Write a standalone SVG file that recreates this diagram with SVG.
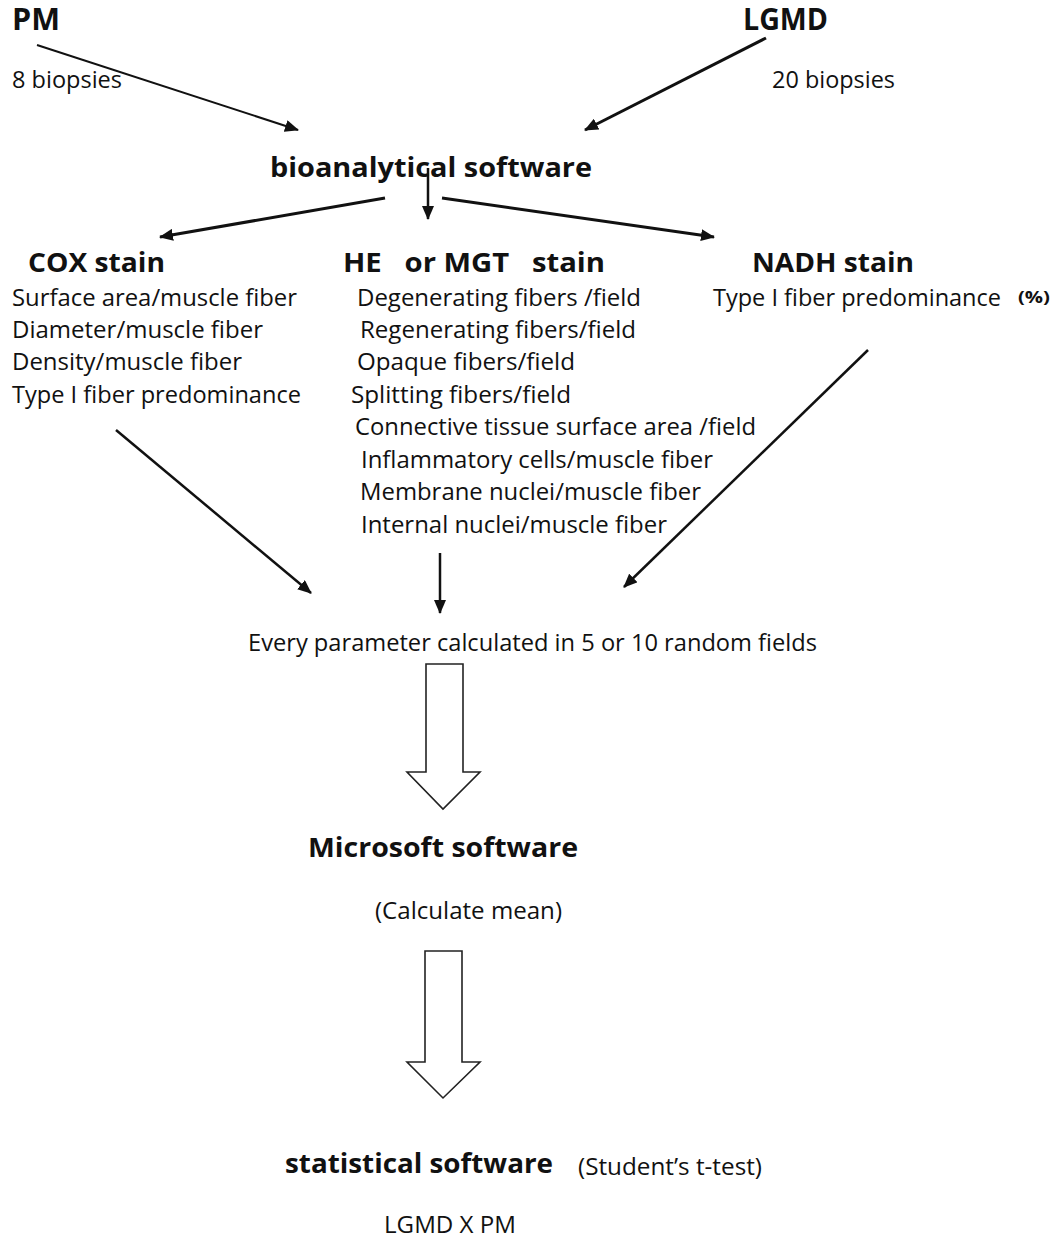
<svg xmlns="http://www.w3.org/2000/svg" width="1054" height="1239" viewBox="0 0 1054 1239">
<style>
text{font-family:"Open Sans","Noto Sans","Liberation Sans",sans-serif;fill:#111;}
.h{font-weight:bold;font-size:26px;}
.t{font-size:23px;font-weight:500;}
.big{font-weight:bold;font-size:30px;}
.ln{stroke:#111;stroke-width:2.5;fill:none;marker-end:url(#ah);}
.blk{fill:#fff;stroke:#222;stroke-width:1.6;}
</style>
<defs>
<marker id="ah" markerUnits="userSpaceOnUse" markerWidth="14" markerHeight="12" refX="13" refY="6" orient="auto">
<path d="M0,0 L14,6 L0,12 z" fill="#111"/>
</marker>
</defs>
<rect width="1054" height="1239" fill="#fff"/>
<g id="connectors">
<line class="ln" x1="37" y1="45" x2="298" y2="130" style="stroke-width:2"/>
<line class="ln" x1="766" y1="38" x2="585" y2="130" style="stroke-width:3"/>
<line class="ln" x1="428" y1="168" x2="428" y2="219"/>
<line class="ln" x1="385" y1="198" x2="160" y2="237" style="stroke-width:3"/>
<line class="ln" x1="442" y1="198" x2="714" y2="237" style="stroke-width:3"/>
<line class="ln" x1="116" y1="430" x2="311" y2="593"/>
<line class="ln" x1="440" y1="553" x2="440" y2="613"/>
<line class="ln" x1="868" y1="350" x2="624" y2="587"/>
<polygon class="blk" points="426,664 463,664 463,772 480,772 443,809 407,772 426,772"/>
<polygon class="blk" points="425,951 462,951 462,1062 480,1062 443,1098 407,1062 425,1062"/>
</g>
<g id="pm"><text class="big" x="12" y="30" textLength="48" lengthAdjust="spacingAndGlyphs">PM</text>
<text class="t" x="12" y="88" textLength="110" lengthAdjust="spacingAndGlyphs">8 biopsies</text></g>
<g id="lgmd"><text class="big" x="743" y="30" textLength="85" lengthAdjust="spacingAndGlyphs">LGMD</text>
<text class="t" x="772" y="88" textLength="123" lengthAdjust="spacingAndGlyphs">20 biopsies</text></g>
<g id="bioanalytical"><text class="h" x="270" y="177" textLength="322" lengthAdjust="spacingAndGlyphs">bioanalytical  software</text></g>
<g id="cox">
<text class="h" x="28" y="272" textLength="137" lengthAdjust="spacingAndGlyphs">COX stain</text>
<text class="t" x="12" y="306" textLength="285" lengthAdjust="spacingAndGlyphs">Surface area/muscle fiber</text>
<text class="t" x="12" y="338" textLength="251" lengthAdjust="spacingAndGlyphs">Diameter/muscle fiber</text>
<text class="t" x="12" y="370" textLength="230" lengthAdjust="spacingAndGlyphs">Density/muscle fiber</text>
<text class="t" x="12" y="403" textLength="289" lengthAdjust="spacingAndGlyphs">Type I fiber predominance</text>
</g>
<g id="he">
<text class="h" x="343" y="272" textLength="262" lengthAdjust="spacingAndGlyphs" xml:space="preserve">HE   or MGT   stain</text>
<text class="t" x="357" y="306" textLength="284" lengthAdjust="spacingAndGlyphs">Degenerating fibers /field</text>
<text class="t" x="360" y="338" textLength="276" lengthAdjust="spacingAndGlyphs">Regenerating fibers/field</text>
<text class="t" x="357" y="370" textLength="218" lengthAdjust="spacingAndGlyphs">Opaque fibers/field</text>
<text class="t" x="351" y="403" textLength="220" lengthAdjust="spacingAndGlyphs">Splitting fibers/field</text>
<text class="t" x="355" y="435" textLength="401" lengthAdjust="spacingAndGlyphs">Connective tissue surface area /field</text>
<text class="t" x="361" y="468" textLength="352" lengthAdjust="spacingAndGlyphs">Inflammatory cells/muscle fiber</text>
<text class="t" x="360" y="500" textLength="341" lengthAdjust="spacingAndGlyphs">Membrane nuclei/muscle fiber</text>
<text class="t" x="361" y="533" textLength="306" lengthAdjust="spacingAndGlyphs">Internal nuclei/muscle fiber</text>
</g>
<g id="nadh">
<text class="h" x="752" y="272" textLength="162" lengthAdjust="spacingAndGlyphs">NADH stain</text>
<text class="t" x="713" y="306" textLength="288" lengthAdjust="spacingAndGlyphs">Type I fiber predominance</text>
<text x="1018" y="303" style="font-weight:bold;font-size:16px" textLength="32" lengthAdjust="spacingAndGlyphs">(%)</text>
</g>
<g id="every"><text class="t" x="248" y="651" textLength="569" lengthAdjust="spacingAndGlyphs">Every parameter calculated in 5 or 10 random fields</text></g>
<g id="microsoft">
<text class="h" x="308" y="857" textLength="270" lengthAdjust="spacingAndGlyphs">Microsoft software</text>
<text class="t" x="375" y="919" textLength="187" lengthAdjust="spacingAndGlyphs">(Calculate mean)</text>
</g>
<g id="statistical">
<text class="h" x="285" y="1173" textLength="268" lengthAdjust="spacingAndGlyphs">statistical software</text>
<text class="t" x="578" y="1175" textLength="184" lengthAdjust="spacingAndGlyphs">(Student’s t-test)</text>
<text class="t" x="384" y="1233" textLength="132" lengthAdjust="spacingAndGlyphs">LGMD X PM</text>
</g>
</svg>
